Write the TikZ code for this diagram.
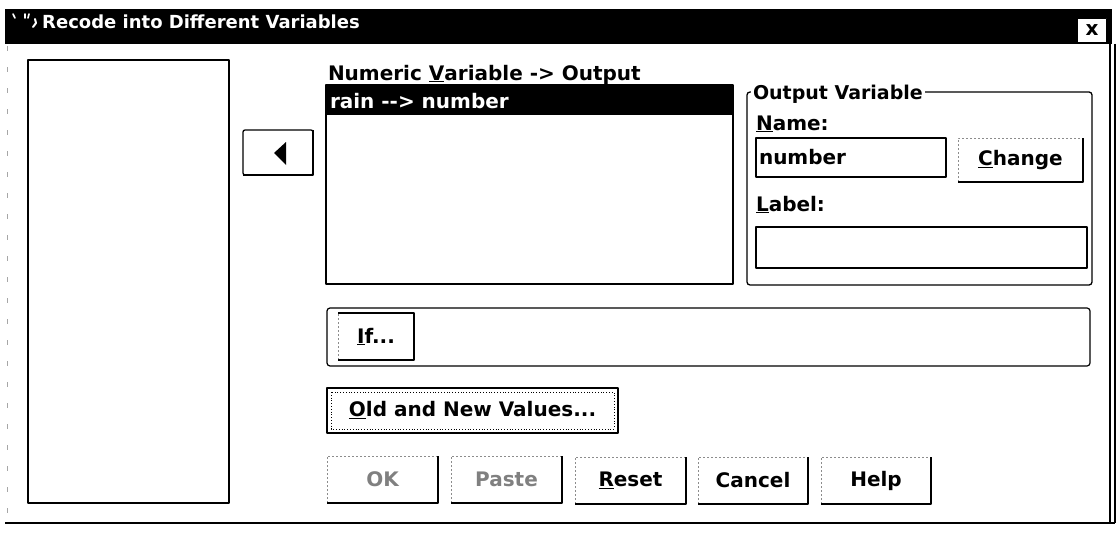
\documentclass[tikz,border=0pt]{standalone}
\usepackage{fontspec}
\setmainfont{DejaVu Sans}
\newcommand\fsz[1]{\fontsize{#1}{#1}\selectfont\bfseries}
% push button: name, left, top, width, height, caption
\newcommand\pushbutton[6]{%
  \node[blank, lbl, minimum width=#4, minimum height=#5] (#1) at (#2,#3) {#6};
  \draw[btnlite] (#1.south west) -- (#1.north west) -- (#1.north east);
  \draw[btnedge] (#1.north east) -- (#1.south east) -- (#1.south west);
}
\begin{document}
\begin{tikzpicture}[x=1pt,y=-1pt,line join=round,
  lbl/.style={inner sep=0pt, outer sep=0pt, font=\fsz{20}},
  blank/.style={inner sep=0pt, outer sep=0pt, anchor=north west},
  frame/.style={blank, draw=black, line width=1.3pt},
  btnlite/.style={draw=black!45, line width=0.8pt, dash pattern=on 2pt off 2pt},
  btnedge/.style={draw=black, line width=1.8pt},
]
\useasboundingbox (0,0) rectangle (1118,535);
\fill[white] (0,0) rectangle (1118,535);

% ---- window frame and caption bar ----
\fill[black] (5,9) rectangle (1112,44);
\node[inner sep=0pt, anchor=base west, text=white, font=\fsz{18}] (title) at (42,29) {Recode into Different Variables};
\draw[white, line width=1.6pt, line cap=round] (13,14) -- (15,18);
\draw[white, line width=1.6pt, line cap=round] (25,14) -- (25,18) (29,14) -- (28,18);
\draw[white, line width=2pt, line cap=round] (35,19) -- (36,23) -- (33,27);
\node[draw=black, fill=white, line width=0.8pt, minimum width=29, minimum height=24, inner sep=0pt, font=\fsz{20}] (close) at (1092,30) {x};

\draw[line width=1.8pt] (1110,44) -- (1110,523);
\draw[line width=1.5pt] (1115,44) -- (1115,523);
\draw[line width=1.5pt] (5,523) -- (1115,523);
\draw[black!35, line width=0.8pt, dash pattern=on 5pt off 16pt] (7,46) -- (7,521);

% ---- source variable list ----
\node[frame, minimum width=201, minimum height=443] (srclist) at (28,60) {};

% ---- move-back arrow button ----
\node[frame, minimum width=70, minimum height=45, rounded corners=2pt] (arrowbtn) at (243,130) {};
\draw[btnedge] (arrowbtn.north east) -- (arrowbtn.south east) -- (arrowbtn.south west);
\fill[black] (274,153) -- (286,142) -- (286,165) -- cycle;

% ---- numeric variable -> output list ----
\node[lbl, anchor=base west] (numlbl) at (328,80) {Numeric \underline{V}ariable -> Output};
\node[frame, minimum width=407, minimum height=199] (varlist) at (326,85) {};
\fill[black] (varlist.north west) rectangle (733,115);
\node[lbl, anchor=base west, text=white] (item) at (330,108) {rain -{}-{}> number};

% ---- output variable group ----
\node[frame, minimum width=345, minimum height=193, rounded corners=3pt] (group) at (747,92) {};
\node[lbl, font=\fsz{19}, fill=white, inner xsep=2pt, anchor=base west] (grouplbl) at (751,99) {Output Variable};
\node[lbl, anchor=base west] (namelbl) at (756,130) {\underline{N}ame:};
\node[frame, line width=1.2pt, minimum width=190, minimum height=39] (namefield) at (756,138) {};
\node[lbl, anchor=base west] (nameval) at (759,164) {number};
\pushbutton{change}{958}{138}{125}{44}{\underline{C}hange}
\node[lbl, anchor=base west] (labellbl) at (756,211) {\underline{L}abel:};
\node[frame, line width=1.2pt, minimum width=331, minimum height=41] (labelfield) at (756,227) {};

% ---- condition row ----
\node[frame, line width=1.2pt, minimum width=763, minimum height=58, rounded corners=3pt] (ifrow) at (327,308) {};
\node[blank, minimum width=76, minimum height=47] (ifbtn) at (338,313) {};
\draw[btnlite] (ifbtn.south west) -- (ifbtn.north west);
\draw[btnedge] (ifbtn.north west) -- (ifbtn.north east) -- (ifbtn.south east) -- (ifbtn.south west);
\node[lbl] (iftext) at (ifbtn.center) {\underline{I}f...};

% ---- recode values button (default) ----
\node[frame, line width=2pt, minimum width=291, minimum height=45, lbl] (oldnew) at (327,388) {\underline{O}ld and New Values...};
\draw[line width=0.8pt, dotted] ([shift={(4,4)}]oldnew.north west) rectangle ([shift={(-4,-4)}]oldnew.south east);

% ---- dialog buttons ----
\pushbutton{okbtn}{327}{456}{111}{47}{\color{black!50}OK}
\pushbutton{pastebtn}{451}{456}{111}{47}{\color{black!50}Paste}
\pushbutton{resetbtn}{575}{457}{111}{47}{\underline{R}eset}
\pushbutton{cancelbtn}{698}{457}{110}{47}{Cancel}
\pushbutton{helpbtn}{821}{457}{110}{47}{Help}
\end{tikzpicture}
\end{document}
